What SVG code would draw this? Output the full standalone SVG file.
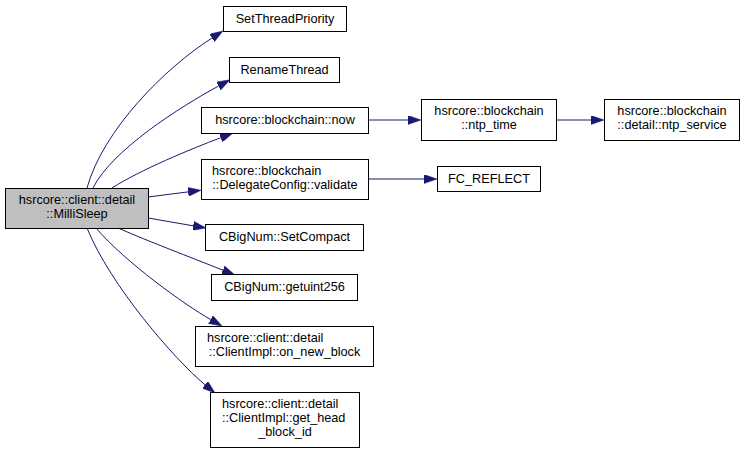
<svg xmlns="http://www.w3.org/2000/svg" width="744" height="453" viewBox="0 0 744 453">
<style>
.box{fill:#ffffff;stroke:#000000;stroke-width:1}
.main{fill:#bfbfbf;stroke:#000000;stroke-width:1}
text{font-family:"Liberation Sans",Arial,sans-serif;font-size:12.7px;fill:#000000}
.c{text-anchor:middle}
.l{text-anchor:start}
.e{fill:none;stroke:#191970;stroke-width:1;marker-end:url(#arr)}
</style>
<defs>
<marker id="arr" viewBox="0 0 13 9" refX="0" refY="4.5" markerWidth="13" markerHeight="9" markerUnits="userSpaceOnUse" orient="auto">
<path d="M0,0 L13,4.5 L0,9 Z" fill="#191970" stroke="#191970" stroke-width="0.5"/>
</marker>
</defs>
<rect width="744" height="453" fill="#ffffff"/>
<g id="edges">
<path class="e" d="M87,188 C103,130 165,68 212,38"/>
<path class="e" d="M93,188 C112,150 180,107 218.6,86"/>
<path class="e" d="M112,188 C140,170 191,149 220.8,137.7"/>
<path class="e" d="M148,197 L188.1,191.9"/>
<path class="e" d="M148,218 L193.2,225.8"/>
<path class="e" d="M118,228 C150,242 190,257 222.9,270.2"/>
<path class="e" d="M96,228 C125,262 185,305 210.7,319.6"/>
<path class="e" d="M87,228 C110,285 175,360 205,384.7"/>
<path class="e" d="M368,120 L408,120"/>
<path class="e" d="M556,120 L591,120"/>
<path class="e" d="M368,179 L424,179"/>
</g>
<g id="n_millisleep">
<rect class="main" x="5.5" y="188.5" width="143" height="40"/>
<text class="c" x="77" y="204">hsrcore::client::detail</text>
<text class="c" x="77" y="218">::MilliSleep</text>
</g>
<g id="n_setthreadpriority">
<rect class="box" x="223.5" y="6.5" width="123" height="25"/>
<text class="c" x="285" y="23">SetThreadPriority</text>
</g>
<g id="n_renamethread">
<rect class="box" x="229.5" y="57.5" width="110" height="25"/>
<text class="c" x="284.5" y="74">RenameThread</text>
</g>
<g id="n_now">
<rect class="box" x="201.5" y="107.5" width="167" height="26"/>
<text class="c" x="285" y="124">hsrcore::blockchain::now</text>
</g>
<g id="n_validate">
<rect class="box" x="201.5" y="159.5" width="167" height="40"/>
<text class="l" x="212" y="175">hsrcore::blockchain</text>
<text class="c" x="285" y="189">::DelegateConfig::validate</text>
</g>
<g id="n_setcompact">
<rect class="box" x="205.5" y="224.5" width="158" height="26"/>
<text class="c" x="284.5" y="241">CBigNum::SetCompact</text>
</g>
<g id="n_getuint256">
<rect class="box" x="211.5" y="274.5" width="146" height="26"/>
<text class="c" x="284.5" y="291">CBigNum::getuint256</text>
</g>
<g id="n_on_new_block">
<rect class="box" x="195.5" y="326.5" width="178" height="40"/>
<text class="l" x="207" y="342">hsrcore::client::detail</text>
<text class="c" x="284.5" y="356">::ClientImpl::on_new_block</text>
</g>
<g id="n_get_head_block_id">
<rect class="box" x="210.5" y="392.5" width="149" height="55"/>
<text class="l" x="222" y="408">hsrcore::client::detail</text>
<text class="l" x="222" y="422">::ClientImpl::get_head</text>
<text class="c" x="285" y="436">_block_id</text>
</g>
<g id="n_ntp_time">
<rect class="box" x="421.5" y="99.5" width="135" height="41"/>
<text class="c" x="489" y="115">hsrcore::blockchain</text>
<text class="c" x="489" y="129">::ntp_time</text>
</g>
<g id="n_ntp_service">
<rect class="box" x="604.5" y="99.5" width="135" height="41"/>
<text class="c" x="672" y="115">hsrcore::blockchain</text>
<text class="c" x="672" y="129">::detail::ntp_service</text>
</g>
<g id="n_fc_reflect">
<rect class="box" x="437.5" y="166.5" width="103" height="25"/>
<text class="c" x="489" y="183">FC_REFLECT</text>
</g>
</svg>
